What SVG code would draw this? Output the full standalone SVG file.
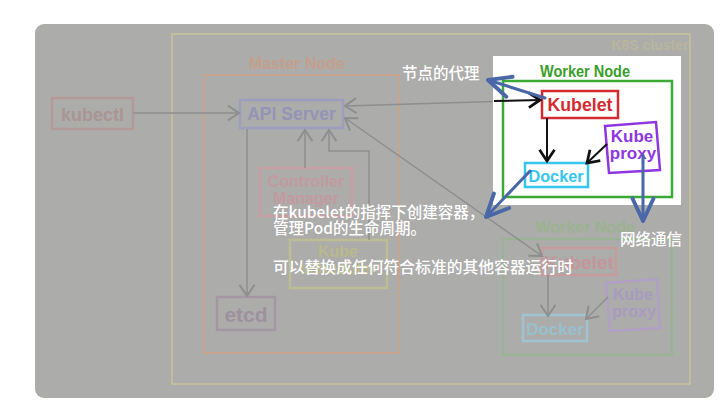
<svg xmlns="http://www.w3.org/2000/svg" width="726" height="416" viewBox="0 0 726 416">
<defs>
<style>
.nt{font-family:"Liberation Sans",Arial,sans-serif;font-weight:bold;text-anchor:middle}
.wt{font-family:"Noto Sans CJK SC","Noto Sans",sans-serif;fill:#ffffff;font-size:15.5px;font-weight:500}
.gl{fill:none;stroke:#8e8e8e;stroke-width:1.5}
.bl{fill:none;stroke:#4a68a8;stroke-width:3;stroke-linecap:round}
.box{fill:none;stroke-width:2.5}
</style>
<marker id="ga" markerUnits="userSpaceOnUse" markerWidth="20" markerHeight="20" refX="0" refY="0" viewBox="-12 -8 14 16" orient="auto" overflow="visible">
<path d="M-9,-6 L0,0 L-9,6" fill="none" stroke="#8e8e8e" stroke-width="1.6"/>
</marker>
<marker id="gs" markerUnits="userSpaceOnUse" markerWidth="20" markerHeight="20" refX="0" refY="0" viewBox="-12 -8 14 16" orient="auto-start-reverse" overflow="visible">
<path d="M-9,-6 L0,0 L-9,6" fill="none" stroke="#8e8e8e" stroke-width="1.6"/>
</marker>
<marker id="ka" markerUnits="userSpaceOnUse" markerWidth="20" markerHeight="20" refX="0" refY="0" viewBox="-12 -8 14 16" orient="auto" overflow="visible">
<path d="M-9,-6 L0,0 L-9,6" fill="none" stroke="#111111" stroke-width="2.2"/>
</marker>
<marker id="ba" markerUnits="userSpaceOnUse" markerWidth="30" markerHeight="30" refX="0" refY="0" viewBox="-16 -10 18 20" orient="auto" overflow="visible">
<path d="M-15,-7 L0,0 L-15,7" fill="none" stroke="#4a68a8" stroke-width="2.6" stroke-linecap="round" stroke-linejoin="round"/>
</marker>
</defs>
<rect width="726" height="416" fill="#ffffff"/>
<rect x="35" y="24" width="679" height="374" rx="9" fill="#acacab"/>

<!-- faded background diagram -->
<g id="cluster">
<rect x="172" y="34" width="518" height="350" fill="none" stroke="#c7c39b" stroke-width="1.5"/>
<text class="nt" x="650" y="50" font-size="14" fill="#b8b69c">K8S cluster</text>
</g>
<g id="master-node">
<rect x="204" y="75" width="195" height="278" fill="none" stroke="#c6a48f" stroke-width="2"/>
<text class="nt" x="297" y="69" font-size="16" fill="#c4a08c">Master Node</text>
</g>
<g id="kubectl">
<rect x="52" y="98" width="81" height="31" class="box" stroke="#b39a98" stroke-width="2"/>
<text class="nt" x="92.5" y="121" font-size="18" fill="#a99593">kubectl</text>
</g>
<g id="api-server">
<rect x="240" y="100" width="103" height="28" class="box" stroke="#9d9dbd" stroke-width="2"/>
<text class="nt" x="291.5" y="120" font-size="17.5" fill="#9494b6">API Server</text>
</g>
<g id="controller-manager">
<rect x="260" y="168" width="92" height="48" class="box" stroke="#c69ea3" stroke-width="2"/>
<text class="nt" x="306" y="187" font-size="16" fill="#c39aa0">Controller</text>
<text class="nt" x="306" y="204" font-size="16" fill="#c39aa0">Manager</text>
</g>
<g id="kube-scheduler">
<rect x="290" y="240" width="97" height="48" class="box" stroke="#bcbd92" stroke-width="2"/>
<text class="nt" x="338" y="257" font-size="16" fill="#b8b98d">Kube</text>
<text class="nt" x="338" y="274" font-size="16" fill="#b8b98d">scheduler</text>
</g>
<g id="etcd">
<rect x="217" y="297" width="58" height="33" class="box" stroke="#a297a3" stroke-width="2"/>
<text class="nt" x="246" y="322" font-size="21" fill="#9d919e">etcd</text>
</g>
<g id="worker-node-2">
<text class="nt" x="585" y="233" font-size="16" fill="#9ab390">Worker Node</text>
<rect x="503" y="239" width="169" height="116" class="box" stroke="#9ab394"/>
</g>
<g id="kubelet-2">
<rect x="542" y="248" width="74" height="27" class="box" stroke="#c79a9c"/>
<text class="nt" x="579" y="269" font-size="19" fill="#c4969a">Kubelet</text>
</g>
<g id="kube-proxy-2">
<polygon points="606,283 657,279 660,328 610,331" class="box" stroke="#b09fc6"/>
<text class="nt" x="633" y="300" font-size="16" fill="#a99ac0">Kube</text>
<text class="nt" x="634" y="317" font-size="16" fill="#a99ac0">proxy</text>
</g>
<g id="docker-2">
<rect x="523" y="315" width="64" height="26" class="box" stroke="#9dc4cf"/>
<text class="nt" x="555" y="335" font-size="17" fill="#98c0cc">Docker</text>
</g>

<g id="connectors">
<line x1="133" y1="113" x2="239" y2="113" class="gl" marker-end="url(#ga)"/>
<line x1="247" y1="129" x2="247" y2="296" class="gl" marker-end="url(#ga)"/>
<line x1="305" y1="168" x2="305" y2="130" class="gl" marker-end="url(#ga)"/>
<polyline points="369,240 369,151 329,151 329,130" class="gl" marker-end="url(#ga)"/>
<line x1="345" y1="106" x2="540" y2="100" class="gl" marker-start="url(#gs)"/>
<line x1="345" y1="118" x2="542" y2="256" class="gl" marker-start="url(#gs)" marker-end="url(#ga)"/>
<line x1="548" y1="275" x2="548" y2="316" class="gl" marker-end="url(#ga)"/>
<line x1="608" y1="297" x2="586" y2="319" class="gl" marker-end="url(#ga)"/>
</g>

<!-- highlighted worker node -->
<rect x="493" y="56" width="188" height="149" fill="#ffffff"/>
<g id="worker-node">
<text class="nt" x="585" y="77" font-size="16" fill="#3a9e2a" textLength="90" lengthAdjust="spacingAndGlyphs">Worker Node</text>
<rect x="503" y="81" width="169" height="116" class="box" stroke="#3aaa35" stroke-width="3"/>
</g>
<g id="kubelet">
<rect x="542" y="91" width="76" height="27" class="box" stroke="#d42a32"/>
<text class="nt" x="580" y="111" font-size="19" fill="#d42a32" textLength="65" lengthAdjust="spacingAndGlyphs">Kubelet</text>
</g>
<g id="kube-proxy">
<polygon points="605,126 656,122 660,170 609,173" class="box" stroke="#8e36e0"/>
<text class="nt" x="632" y="142" font-size="17" fill="#8e36e0">Kube</text>
<text class="nt" x="633" y="159" font-size="17" fill="#8e36e0">proxy</text>
</g>
<g id="docker">
<rect x="525" y="163" width="63" height="24" class="box" stroke="#35c6f0"/>
<text class="nt" x="556" y="182" font-size="17" fill="#35c6f0" textLength="55" lengthAdjust="spacingAndGlyphs">Docker</text>
</g>
<g id="connectors-highlight">
<line x1="494" y1="101" x2="540" y2="100" fill="none" stroke="#111111" stroke-width="2" marker-end="url(#ka)"/>
<line x1="547" y1="118" x2="547" y2="161" fill="none" stroke="#111111" stroke-width="2" marker-end="url(#ka)"/>
<line x1="607" y1="144" x2="587" y2="163" fill="none" stroke="#111111" stroke-width="2" marker-end="url(#ka)"/>
</g>

<!-- annotations -->
<g id="annotations">
<text class="wt" x="402" y="79">节点的代理</text>
<text class="wt" x="273" y="218">在kubelet的指挥下创建容器，</text>
<text class="wt" x="273" y="234">管理Pod的生命周期。</text>
<text class="wt" x="273" y="273" textLength="300" lengthAdjust="spacingAndGlyphs">可以替换成任何符合标准的其他容器运行时</text>
<text class="wt" x="620" y="245">网络通信</text>
</g>
<g id="annotation-arrows">
<line x1="545" y1="98" x2="488" y2="80" class="bl" marker-end="url(#ba)"/>
<line x1="530" y1="171" x2="486" y2="217" class="bl" marker-end="url(#ba)"/>
<line x1="643" y1="155" x2="643" y2="221" class="bl" marker-end="url(#ba)"/>
</g>
</svg>
